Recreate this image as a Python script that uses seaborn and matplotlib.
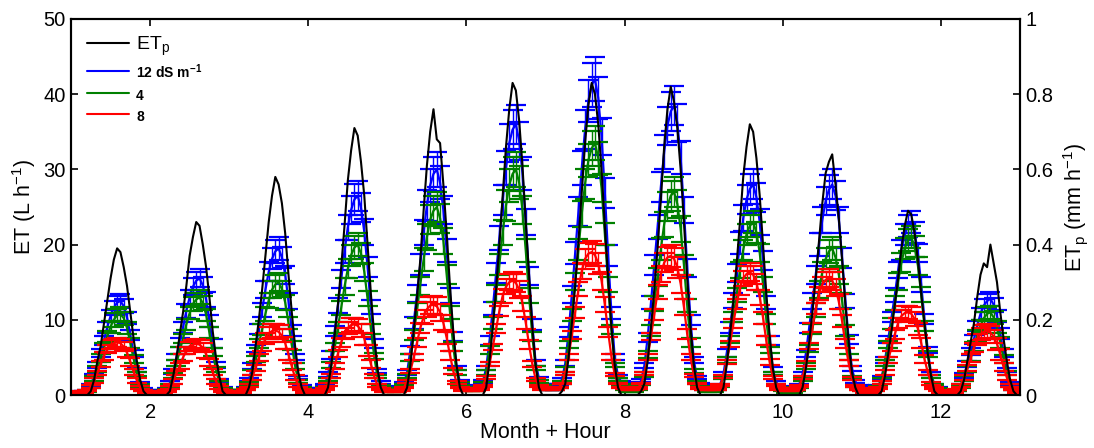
import matplotlib
matplotlib.use("Agg")
import matplotlib.pyplot as plt
from matplotlib.lines import Line2D
import numpy as np
import pandas as pd
import seaborn as sns

# ---------------- data ----------------
MONTHS = [1, 2, 3, 4, 5, 6, 7, 8, 9, 10, 11, 12]
HOURS = [0, 1, 2, 3, 4, 5, 6, 7, 8, 9, 10, 11, 12, 13, 14, 15, 16, 17, 18, 19, 20, 21, 22, 23]

# potential ET (mm h-1), one row per month, 24 hourly values
ETP = [
    [0, 0, 0, 0, 0, 0, 0.01, 0.04, 0.09, 0.13, 0.19, 0.25, 0.31, 0.36, 0.39, 0.38, 0.34, 0.29, 0.22, 0.15, 0.09, 0.04, 0.01, 0],
    [0, 0, 0, 0, 0, 0, 0.01, 0.05, 0.10, 0.16, 0.22, 0.29, 0.37, 0.42, 0.46, 0.45, 0.40, 0.34, 0.26, 0.17, 0.10, 0.05, 0.01, 0],
    [0, 0, 0, 0, 0, 0, 0.02, 0.06, 0.13, 0.20, 0.28, 0.37, 0.46, 0.53, 0.58, 0.56, 0.51, 0.43, 0.32, 0.22, 0.13, 0.06, 0.02, 0],
    [0, 0, 0, 0, 0, 0, 0.02, 0.08, 0.16, 0.24, 0.34, 0.45, 0.57, 0.65, 0.71, 0.69, 0.62, 0.53, 0.40, 0.27, 0.16, 0.07, 0.02, 0],
    [0, 0, 0, 0, 0, 0, 0.02, 0.08, 0.17, 0.26, 0.36, 0.49, 0.61, 0.70, 0.76, 0.68, 0.67, 0.56, 0.43, 0.29, 0.17, 0.08, 0.02, 0],
    [0, 0, 0, 0, 0, 0, 0.02, 0.09, 0.18, 0.28, 0.40, 0.53, 0.66, 0.76, 0.83, 0.81, 0.73, 0.61, 0.46, 0.32, 0.18, 0.08, 0.02, 0],
    [0, 0, 0, 0, 0, 0.01, 0.03, 0.10, 0.19, 0.29, 0.41, 0.54, 0.67, 0.77, 0.83, 0.80, 0.72, 0.60, 0.45, 0.31, 0.18, 0.08, 0.02, 0],
    [0, 0, 0, 0, 0, 0.01, 0.03, 0.09, 0.18, 0.28, 0.39, 0.52, 0.66, 0.76, 0.82, 0.78, 0.71, 0.60, 0.46, 0.31, 0.18, 0.08, 0.02, 0],
    [0, 0, 0, 0, 0, 0, 0.02, 0.08, 0.16, 0.25, 0.35, 0.46, 0.58, 0.66, 0.72, 0.70, 0.63, 0.53, 0.40, 0.27, 0.16, 0.07, 0.02, 0],
    [0, 0, 0, 0, 0, 0, 0.02, 0.07, 0.14, 0.22, 0.31, 0.41, 0.51, 0.59, 0.62, 0.64, 0.56, 0.47, 0.36, 0.24, 0.14, 0.06, 0.02, 0],
    [0, 0, 0, 0, 0, 0, 0.01, 0.05, 0.11, 0.17, 0.24, 0.31, 0.39, 0.45, 0.49, 0.48, 0.43, 0.36, 0.27, 0.19, 0.11, 0.05, 0.01, 0],
    [0, 0, 0, 0, 0, 0, 0.01, 0.04, 0.09, 0.14, 0.19, 0.26, 0.32, 0.35, 0.34, 0.40, 0.35, 0.30, 0.22, 0.15, 0.09, 0.04, 0.01, 0],
]

# ET (L h-1) at 12 dS m-1
ET_12 = [
    [0.4, 0.3, 0.3, 0.3, 0.4, 0.6, 1.3, 2.5, 4.0, 5.6, 7.3, 9.0, 10.5, 11.6, 12.3, 12.5, 11.8, 10.3, 8.0, 5.5, 3.3, 1.5, 0.8, 0.5],
    [0.5, 0.3, 0.3, 0.3, 0.5, 0.8, 1.6, 3.1, 5.0, 7.0, 9.0, 11.2, 13.0, 14.4, 15.2, 15.5, 14.6, 12.7, 9.9, 6.8, 4.0, 1.9, 0.9, 0.6],
    [0.6, 0.4, 0.4, 0.4, 0.6, 1.0, 2.0, 3.9, 6.2, 8.8, 11.3, 14.0, 16.4, 18.1, 19.1, 19.5, 18.3, 16.0, 12.5, 8.6, 5.1, 2.3, 1.2, 0.8],
    [0.8, 0.5, 0.5, 0.5, 0.8, 1.3, 2.7, 5.3, 8.5, 11.9, 15.4, 19.1, 22.3, 24.6, 26.0, 26.5, 24.9, 21.7, 17.0, 11.7, 6.9, 3.2, 1.6, 1.1],
    [0.9, 0.6, 0.6, 0.6, 0.9, 1.5, 3.0, 6.0, 9.6, 13.5, 17.4, 21.6, 25.2, 27.9, 29.4, 30.0, 28.2, 24.6, 19.2, 13.2, 7.8, 3.6, 1.8, 1.2],
    [1.1, 0.7, 0.7, 0.7, 1.1, 1.8, 3.6, 7.2, 11.5, 16.2, 20.9, 25.9, 30.2, 33.5, 35.3, 36.0, 33.8, 29.5, 23.0, 15.8, 9.4, 4.3, 2.2, 1.4],
    [1.3, 0.8, 0.8, 0.8, 1.3, 2.1, 4.2, 8.4, 13.4, 18.9, 24.4, 30.2, 35.3, 39.1, 41.2, 42.0, 39.5, 34.4, 26.9, 18.5, 10.9, 5.0, 2.5, 1.7],
    [1.2, 0.8, 0.8, 0.8, 1.2, 1.9, 3.9, 7.7, 12.3, 17.3, 22.3, 27.7, 32.3, 35.8, 37.7, 38.5, 36.2, 31.6, 24.6, 16.9, 10.0, 4.6, 2.3, 1.5],
    [0.8, 0.6, 0.6, 0.6, 0.8, 1.4, 2.8, 5.6, 9.0, 12.6, 16.2, 20.2, 23.5, 26.0, 27.4, 28.0, 26.3, 23.0, 17.9, 12.3, 7.3, 3.4, 1.7, 1.1],
    [0.9, 0.6, 0.6, 0.6, 0.9, 1.4, 2.8, 5.5, 8.9, 12.5, 16.0, 20.0, 23.3, 25.8, 27.3, 28.0, 26.5, 23.3, 18.2, 12.5, 7.4, 3.5, 1.8, 1.2],
    [0.7, 0.5, 0.5, 0.5, 0.7, 1.2, 2.3, 4.6, 7.4, 10.4, 13.3, 16.6, 19.3, 21.4, 22.5, 23.0, 21.6, 18.9, 14.7, 10.1, 6.0, 2.8, 1.4, 0.9],
    [0.4, 0.3, 0.3, 0.3, 0.4, 0.6, 1.3, 2.6, 4.1, 5.8, 7.4, 9.2, 10.8, 11.9, 12.5, 12.8, 12.0, 10.5, 8.2, 5.6, 3.3, 1.5, 0.8, 0.5],
]

# ET (L h-1) at 4 dS m-1
ET_4 = [
    [0.3, 0.2, 0.2, 0.2, 0.3, 0.5, 1.1, 2.2, 3.5, 4.9, 6.3, 7.8, 9.1, 10.0, 10.6, 10.8, 10.2, 8.9, 6.9, 4.8, 2.8, 1.3, 0.6, 0.4],
    [0.4, 0.3, 0.3, 0.3, 0.4, 0.7, 1.3, 2.6, 4.2, 5.9, 7.5, 9.4, 10.9, 12.1, 12.7, 13.0, 12.2, 10.7, 8.3, 5.7, 3.4, 1.6, 0.8, 0.5],
    [0.5, 0.3, 0.3, 0.3, 0.5, 0.8, 1.5, 3.0, 4.8, 6.8, 8.7, 10.8, 12.6, 14.0, 14.7, 15.0, 14.1, 12.3, 9.6, 6.6, 3.9, 1.8, 0.9, 0.6],
    [0.6, 0.4, 0.4, 0.4, 0.6, 1.0, 2.0, 4.0, 6.4, 9.0, 11.6, 14.4, 16.8, 18.6, 19.6, 20.0, 18.8, 16.4, 12.8, 8.8, 5.2, 2.4, 1.2, 0.8],
    [0.8, 0.5, 0.5, 0.5, 0.8, 1.3, 2.5, 5.0, 8.0, 11.3, 14.5, 18.0, 21.0, 23.3, 24.5, 25.0, 23.5, 20.5, 16.0, 11.0, 6.5, 3.0, 1.5, 1.0],
    [0.9, 0.6, 0.6, 0.6, 0.9, 1.5, 3.0, 6.0, 9.6, 13.5, 17.4, 21.6, 25.2, 27.9, 29.4, 30.0, 28.2, 24.6, 19.2, 13.2, 7.8, 3.6, 1.8, 1.2],
    [1.0, 0.7, 0.7, 0.7, 1.0, 1.7, 3.4, 6.7, 10.7, 15.1, 19.4, 24.1, 28.1, 31.2, 32.8, 33.5, 31.5, 27.5, 21.4, 14.7, 8.7, 4.0, 2.0, 1.3],
    [0.8, 0.5, 0.5, 0.5, 0.8, 1.4, 2.7, 5.4, 8.6, 12.2, 15.7, 19.4, 22.7, 25.1, 26.5, 27.0, 25.4, 22.1, 17.3, 11.9, 7.0, 3.2, 1.6, 1.1],
    [0.7, 0.5, 0.5, 0.5, 0.7, 1.2, 2.3, 4.6, 7.4, 10.4, 13.3, 16.6, 19.3, 21.4, 22.5, 23.0, 21.6, 18.9, 14.7, 10.1, 6.0, 2.8, 1.4, 0.9],
    [0.6, 0.4, 0.4, 0.4, 0.6, 1.0, 2.0, 3.9, 6.2, 8.8, 11.3, 14.0, 16.4, 18.1, 19.1, 19.5, 18.3, 16.0, 12.5, 8.6, 5.1, 2.3, 1.2, 0.8],
    [0.6, 0.4, 0.4, 0.4, 0.6, 1.1, 2.1, 4.2, 6.7, 9.5, 12.2, 15.1, 17.6, 19.5, 20.6, 21.0, 19.7, 17.2, 13.4, 9.2, 5.5, 2.5, 1.3, 0.8],
    [0.3, 0.2, 0.2, 0.2, 0.3, 0.6, 1.1, 2.2, 3.5, 5.0, 6.4, 7.9, 9.2, 10.2, 10.8, 11.0, 10.3, 9.0, 7.0, 4.8, 2.9, 1.3, 0.7, 0.4],
]

# ET (L h-1) at 8 dS m-1
ET_8 = [
    [0.4, 0.3, 0.3, 0.3, 0.4, 0.6, 1.1, 1.9, 2.9, 4.1, 5.2, 6.1, 6.7, 6.9, 7.0, 6.9, 6.4, 5.6, 4.4, 3.1, 1.9, 1.0, 0.6, 0.4],
    [0.3, 0.3, 0.3, 0.3, 0.3, 0.5, 1.0, 1.8, 2.9, 3.9, 5.0, 5.9, 6.5, 6.7, 6.8, 6.7, 6.3, 5.4, 4.3, 3.0, 1.8, 1.0, 0.5, 0.3],
    [0.4, 0.3, 0.3, 0.3, 0.4, 0.7, 1.3, 2.3, 3.6, 5.0, 6.4, 7.5, 8.2, 8.5, 8.6, 8.4, 7.9, 6.9, 5.4, 3.8, 2.3, 1.2, 0.7, 0.4],
    [0.5, 0.4, 0.4, 0.4, 0.5, 0.8, 1.4, 2.5, 3.9, 5.5, 7.0, 8.2, 8.9, 9.3, 9.4, 9.2, 8.6, 7.5, 5.9, 4.1, 2.5, 1.3, 0.8, 0.5],
    [0.6, 0.5, 0.5, 0.5, 0.6, 1.0, 1.8, 3.2, 5.0, 7.0, 8.9, 10.4, 11.4, 11.9, 12.0, 11.8, 11.0, 9.6, 7.6, 5.3, 3.2, 1.7, 1.0, 0.6],
    [0.8, 0.6, 0.6, 0.6, 0.8, 1.2, 2.3, 4.1, 6.4, 8.8, 11.2, 13.2, 14.4, 15.0, 15.2, 14.9, 14.0, 12.2, 9.6, 6.7, 4.1, 2.1, 1.2, 0.8],
    [1.0, 0.8, 0.8, 0.8, 1.0, 1.5, 2.9, 5.1, 8.0, 11.0, 14.1, 16.5, 18.1, 18.8, 19.0, 18.6, 17.5, 15.2, 12.0, 8.4, 5.1, 2.7, 1.5, 1.0],
    [0.9, 0.7, 0.7, 0.7, 0.9, 1.5, 2.8, 5.0, 7.8, 10.7, 13.7, 16.1, 17.6, 18.3, 18.5, 18.1, 17.0, 14.8, 11.7, 8.1, 5.0, 2.6, 1.5, 0.9],
    [0.8, 0.7, 0.7, 0.7, 0.8, 1.3, 2.4, 4.4, 6.8, 9.5, 12.1, 14.2, 15.5, 16.1, 16.3, 16.0, 15.0, 13.0, 10.3, 7.2, 4.4, 2.3, 1.3, 0.8],
    [0.8, 0.6, 0.6, 0.6, 0.8, 1.2, 2.3, 4.2, 6.5, 9.0, 11.5, 13.5, 14.7, 15.3, 15.5, 15.2, 14.3, 12.4, 9.8, 6.8, 4.2, 2.2, 1.2, 0.8],
    [0.6, 0.4, 0.4, 0.4, 0.6, 0.9, 1.7, 3.0, 4.6, 6.4, 8.1, 9.6, 10.5, 10.9, 11.0, 10.8, 10.1, 8.8, 6.9, 4.8, 3.0, 1.5, 0.9, 0.6],
    [0.4, 0.3, 0.3, 0.3, 0.4, 0.7, 1.3, 2.3, 3.6, 4.9, 6.3, 7.4, 8.1, 8.4, 8.5, 8.3, 7.8, 6.8, 5.4, 3.7, 2.3, 1.2, 0.7, 0.4],
]

# hourly standard-error profiles (L h-1)
ERR_A = [0.1, 0.1, 0.1, 0.1, 0.1, 0.1, 0.2, 0.3, 0.3, 0.4, 0.5, 0.5, 0.6, 0.6, 0.6, 0.6, 0.6, 0.5, 0.5, 0.4, 0.3, 0.2, 0.1, 0.1]
ERR_B = [0.1, 0.1, 0.1, 0.1, 0.1, 0.1, 0.2, 0.3, 0.4, 0.5, 0.6, 0.7, 0.8, 0.9, 0.9, 0.9, 0.9, 0.8, 0.7, 0.5, 0.3, 0.2, 0.1, 0.1]
ERR_C = [0.1, 0.1, 0.1, 0.1, 0.1, 0.1, 0.2, 0.3, 0.4, 0.6, 0.7, 0.9, 1.0, 1.1, 1.2, 1.2, 1.1, 1.0, 0.8, 0.6, 0.4, 0.2, 0.1, 0.1]
ERR_D = [0.1, 0.1, 0.1, 0.1, 0.1, 0.1, 0.2, 0.4, 0.5, 0.7, 0.9, 1.1, 1.3, 1.4, 1.5, 1.5, 1.4, 1.2, 1.0, 0.7, 0.4, 0.2, 0.1, 0.1]
ERR_E = [0.1, 0.1, 0.1, 0.1, 0.1, 0.1, 0.3, 0.5, 0.7, 1.0, 1.2, 1.5, 1.7, 1.9, 2.0, 2.0, 1.9, 1.7, 1.3, 0.9, 0.6, 0.3, 0.2, 0.1]
ERR_F = [0.1, 0.1, 0.1, 0.1, 0.1, 0.2, 0.3, 0.5, 0.8, 1.1, 1.4, 1.7, 2.0, 2.2, 2.3, 2.3, 2.2, 1.9, 1.5, 1.0, 0.6, 0.3, 0.2, 0.1]
ERR_G = [0.1, 0.1, 0.1, 0.1, 0.1, 0.2, 0.3, 0.6, 0.9, 1.3, 1.6, 2.0, 2.3, 2.5, 2.6, 2.6, 2.5, 2.2, 1.7, 1.2, 0.7, 0.4, 0.2, 0.1]
ERR_H = [0.1, 0.1, 0.1, 0.1, 0.1, 0.2, 0.4, 0.7, 1.1, 1.5, 1.9, 2.3, 2.6, 2.8, 2.9, 2.9, 2.8, 2.5, 2.0, 1.4, 0.8, 0.4, 0.2, 0.1]

ERR_12 = [ERR_B, ERR_C, ERR_D, ERR_E, ERR_F, ERR_G, ERR_H, ERR_G, ERR_E, ERR_E, ERR_D, ERR_B]
ERR_4 = [ERR_B, ERR_B, ERR_C, ERR_D, ERR_E, ERR_F, ERR_F, ERR_E, ERR_D, ERR_D, ERR_D, ERR_B]
ERR_8 = [ERR_A, ERR_A, ERR_B, ERR_B, ERR_C, ERR_C, ERR_D, ERR_D, ERR_C, ERR_C, ERR_B, ERR_B]

LEGEND_LABELS = ["ET$_\\mathrm{p}$", "12 dS m$^{\\mathbf{-1}}$", "4", "8"]
X_TICKS = [2, 4, 6, 8, 10, 12]
Y_TICKS = [0, 10, 20, 30, 40, 50]
Y2_TICKS = [0, 0.2, 0.4, 0.6, 0.8, 1.0]
Y2_TICK_LABELS = ["0", "0.2", "0.4", "0.6", "0.8", "1"]

# ---------------- build table ----------------
rows = []
for mi, m in enumerate(MONTHS):
    for hi, h in enumerate(HOURS):
        rows.append({
            "x": m + h / 24.0,
            "etp": ETP[mi][hi],
            "et12": ET_12[mi][hi], "e12": ERR_12[mi][hi],
            "et4": ET_4[mi][hi], "e4": ERR_4[mi][hi],
            "et8": ET_8[mi][hi], "e8": ERR_8[mi][hi],
        })
df = pd.DataFrame(rows)

# ---------------- style ----------------
sns.set_theme(style="white")
plt.rcParams["font.family"] = ["Liberation Sans", "DejaVu Sans"]
plt.rcParams["mathtext.fontset"] = "custom"
plt.rcParams["mathtext.rm"] = "Liberation Sans"
plt.rcParams["mathtext.it"] = "Liberation Sans:italic"
plt.rcParams["mathtext.bf"] = "Liberation Sans:bold"
plt.rcParams["axes.edgecolor"] = "black"
plt.rcParams["axes.linewidth"] = 1.5
plt.rcParams["text.color"] = "black"
plt.rcParams["axes.labelcolor"] = "black"
plt.rcParams["xtick.color"] = "black"
plt.rcParams["ytick.color"] = "black"

BLUE = (0, 0, 1)
GREEN = (0, 0.5, 0)
RED = (1, 0, 0)

fig = plt.figure(figsize=(10.94, 4.48), dpi=100)
ax = fig.add_axes([0.0649, 0.1183, 0.8675, 0.8393])
ax2 = ax.twinx()

series = [("et12", "e12", BLUE), ("et4", "e4", GREEN), ("et8", "e8", RED)]
for z, (col, ecol, c) in enumerate(series):
    ax.errorbar(df["x"], df[col], yerr=df[ecol], fmt="none", ecolor=c,
                elinewidth=1.0, capsize=7, capthick=1.6, zorder=2 + 2 * z)
    sns.lineplot(x=df["x"], y=df[col], ax=ax, color=c, linewidth=1.6,
                 estimator=None, sort=False, legend=False, zorder=3 + 2 * z)

sns.lineplot(x=df["x"], y=df["etp"], ax=ax2, color="black", linewidth=1.5,
             estimator=None, sort=False, legend=False)

ax.set_xlim(1, 13)
ax.set_ylim(0, 50)
ax2.set_ylim(0, 1)
ax.set_xticks(X_TICKS)
ax.set_xticklabels([str(t) for t in X_TICKS])
ax.set_yticks(Y_TICKS)
ax.set_yticklabels([str(t) for t in Y_TICKS])
ax2.set_yticks(Y2_TICKS)
ax2.set_yticklabels(Y2_TICK_LABELS)

FS_TICK = 14.5
FS_LAB = 15.5
ax.tick_params(axis="x", direction="in", length=5, width=1.2, top=True, bottom=True,
               labelsize=FS_TICK, pad=6, colors="black")
ax.tick_params(axis="y", direction="in", length=5, width=1.2, left=True, right=False,
               labelsize=FS_TICK, pad=4, colors="black")
ax2.tick_params(axis="y", direction="in", length=5, width=1.2, right=True, left=False,
                labelsize=FS_TICK, pad=4, colors="black")

ax.set_xlabel("Month + Hour", fontsize=FS_LAB, labelpad=0, color="black")
ax.set_ylabel("ET (L h$^{-1}$)", fontsize=FS_LAB, labelpad=4, color="black")
ax2.set_ylabel("ET$_\\mathrm{p}$ (mm h$^{-1}$)", fontsize=FS_LAB, rotation=90, labelpad=5,
               color="black")
for a in (ax, ax2):
    for s in a.spines.values():
        s.set_color("black")
        s.set_linewidth(1.5)
    a.grid(False)

handles = [Line2D([], [], color="black", lw=1.5),
           Line2D([], [], color=BLUE, lw=1.5),
           Line2D([], [], color=GREEN, lw=1.5),
           Line2D([], [], color=RED, lw=1.5)]
leg = ax2.legend(handles, LEGEND_LABELS, loc="upper left", bbox_to_anchor=(0.0, 1.0),
                 frameon=False, fontsize=14, handlelength=2.2, handletextpad=0.35,
                 labelspacing=0.25, borderpad=0.3)
for t in leg.get_texts():
    t.set_color("black")
for t in leg.get_texts()[1:]:
    t.set_fontsize(10)
    t.set_fontweight("bold")

fig.savefig("out.png", dpi=100)
